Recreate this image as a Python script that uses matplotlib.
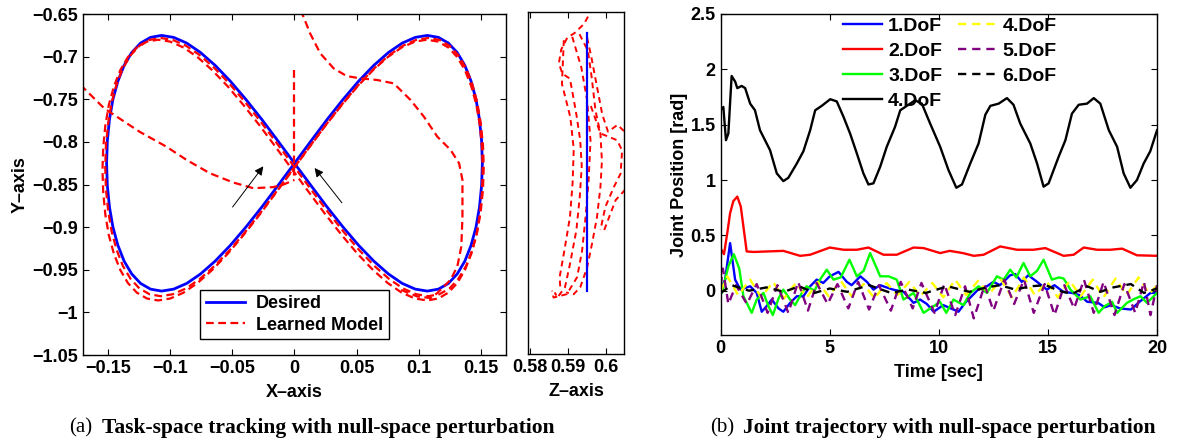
import numpy as np
import matplotlib
matplotlib.use("Agg")
import matplotlib.pyplot as plt

plt.rcParams['font.family'] = ['Liberation Sans', 'DejaVu Sans']
plt.rcParams['font.weight'] = 'bold'
plt.rcParams['axes.labelweight'] = 'bold'

# ---------------- task space (X-Y) ----------------
des_x = [0, .0132, .0262, .0391, .0516, .0638, .0755, .0866, .0971, .1068, .1157, .1237, .1308, .1369, .1419, .1459, .1487, .1504, .151,
         .1504, .1487, .1459, .1419, .1369, .1308, .1237, .1157, .1068, .0971, .0866, .0755, .0638, .0516, .0391, .0262, .0132, 0,
         -.0132, -.0262, -.0391, -.0516, -.0638, -.0755, -.0866, -.0971, -.1068, -.1157, -.1237, -.1308, -.1369, -.1419, -.1459, -.1487, -.1504, -.151,
         -.1504, -.1487, -.1459, -.1419, -.1369, -.1308, -.1237, -.1157, -.1068, -.0971, -.0866, -.0755, -.0638, -.0516, -.0391, -.0262, -.0132, 0]
des_y = [-.825, -.799, -.7737, -.75, -.7286, -.7101, -.6951, -.684, -.6773, -.675, -.6773, -.684, -.6951, -.7101, -.7286, -.75, -.7737, -.799, -.825,
         -.851, -.8763, -.9, -.9214, -.9399, -.9549, -.966, -.9727, -.975, -.9727, -.966, -.9549, -.9399, -.9214, -.9, -.8763, -.851, -.825,
         -.799, -.7737, -.75, -.7286, -.7101, -.6951, -.684, -.6773, -.675, -.6773, -.684, -.6951, -.7101, -.7286, -.75, -.7737, -.799, -.825,
         -.851, -.8763, -.9, -.9214, -.9399, -.9549, -.966, -.9727, -.975, -.9727, -.966, -.9549, -.9399, -.9214, -.9, -.8763, -.851, -.825]

lrnA_x = [0, .0133, .0264, .0394, .0520, .0642, .0760, .0872, .0978, .1075, .1165, .1246, .1317, .1379, .1429, .1469, .1497, .1515, .1521,
          .1515, .1497, .1469, .1429, .1379, .1317, .1246, .1165, .1075, .0978, .0872, .0760, .0642, .0520, .0394, .0264, .0133, 0,
          -.0133, -.0264, -.0394, -.0520, -.0642, -.0760, -.0872, -.0978, -.1075, -.1165, -.1246, -.1317, -.1379, -.1429, -.1469, -.1497, -.1515, -.1521,
          -.1515, -.1497, -.1469, -.1429, -.1379, -.1317, -.1246, -.1165, -.1075, -.0978, -.0872, -.0760, -.0642, -.0520, -.0394, -.0264, -.0133, 0]
lrnA_y = [-.8295, -.8032, -.7777, -.7537, -.7321, -.7135, -.6983, -.6871, -.6803, -.678, -.6803, -.6871, -.6983, -.7135, -.7321, -.7537, -.7777, -.8032, -.8295,
          -.8558, -.8813, -.9053, -.9269, -.9455, -.9607, -.9719, -.9787, -.981, -.9787, -.9719, -.9607, -.9455, -.9269, -.9053, -.8813, -.8558, -.8295,
          -.8032, -.7777, -.7537, -.7321, -.7135, -.6983, -.6871, -.6803, -.678, -.6803, -.6871, -.6983, -.7135, -.7321, -.7537, -.7777, -.8032, -.8295,
          -.8558, -.8813, -.9053, -.9269, -.9455, -.9607, -.9719, -.9787, -.981, -.9787, -.9719, -.9607, -.9455, -.9269, -.9053, -.8813, -.8558, -.8295]

lrnB_x = [-.0015, .0119, .0250, .0381, .0507, .0631, .0749, .0861, .0968, .1066, .1156, .1237, .1309, .1370, .1421, .1462, .1490, .1507, .1513,
          .1507, .1490, .1462, .1421, .1370, .1309, .1237, .1156, .1066, .0968, .0861, .0749, .0631, .0507, .0381, .0250, .0119, -.0015,
          -.0149, -.0280, -.0411, -.0537, -.0661, -.0779, -.0891, -.0998, -.1096, -.1186, -.1267, -.1339, -.1400, -.1451, -.1492, -.1520, -.1537, -.1543,
          -.1537, -.1520, -.1492, -.1451, -.1400, -.1339, -.1267, -.1186, -.1096, -.0998, -.0891, -.0779, -.0661, -.0537, -.0411, -.0280, -.0149, -.0015]
lrnB_y = [-.833, -.8064, -.7807, -.7565, -.7347, -.7158, -.7005, -.6892, -.6823, -.680, -.6823, -.6892, -.7005, -.7158, -.7347, -.7565, -.7807, -.8064, -.833,
          -.8596, -.8853, -.9095, -.9313, -.9502, -.9655, -.9768, -.9837, -.986, -.9837, -.9768, -.9655, -.9502, -.9313, -.9095, -.8853, -.8596, -.833,
          -.8064, -.7807, -.7565, -.7347, -.7158, -.7005, -.6892, -.6823, -.680, -.6823, -.6892, -.7005, -.7158, -.7347, -.7565, -.7807, -.8064, -.833,
          -.8596, -.8853, -.9095, -.9313, -.9502, -.9655, -.9768, -.9837, -.986, -.9837, -.9768, -.9655, -.9502, -.9313, -.9095, -.8853, -.8596, -.833]

# perturbation parts of the learned model
pert1_x = [0.0, 0.0]
pert1_y = [-0.716, -0.842]
pert2_x = [-0.172, -0.153, -0.1245, -0.103, -0.0868, -0.068, -0.049, -0.033, -0.017, -0.0089, 0.0]
pert2_y = [-0.733, -0.7605, -0.788, -0.8055, -0.821, -0.8367, -0.8477, -0.8543, -0.853, -0.850, -0.8445]
pert3_x = [0.005, 0.0126, 0.0207, 0.0315, 0.042, 0.053, 0.0664, 0.0798, 0.0933, 0.104, 0.1148, 0.1255,
           0.1323, 0.135, 0.135, 0.1341, 0.1309, 0.1255, 0.1148, 0.1094, 0.0987, 0.0852]
pert3_y = [-0.645, -0.6727, -0.696, -0.7137, -0.7227, -0.7254, -0.7273, -0.7313, -0.7508, -0.7703, -0.7938, -0.8094,
           -0.825, -0.8445, -0.8875, -0.9227, -0.946, -0.9617, -0.9773, -0.9832, -0.9813, -0.9734]

# ---------------- Z axis ----------------
zdes_z = [0.5951, 0.5951]
zdes_y = [-0.6746, -0.976]
z_strands = [
    ([0.5965, 0.5942, 0.5916, 0.5898, 0.5882, 0.5876, 0.5885, 0.5905, 0.5912, 0.5922, 0.5932, 0.5936, 0.5931,
      0.5922, 0.5905, 0.5892, 0.5872, 0.5865],
     [-0.645, -0.664, -0.675, -0.680, -0.694, -0.710, -0.722, -0.728, -0.745, -0.770, -0.800, -0.830, -0.865,
      -0.905, -0.945, -0.972, -0.984, -0.978]),
    ([0.5930, 0.5952, 0.5962, 0.5972, 0.5985, 0.5989, 0.5985, 0.5976, 0.5963, 0.5950, 0.5932, 0.5915, 0.5895],
     [-0.676, -0.695, -0.726, -0.765, -0.792, -0.824, -0.855, -0.890, -0.921, -0.949, -0.972, -0.980, -0.978]),
    ([0.5960, 0.5985, 0.6029, 0.6042, 0.6038, 0.6020, 0.5998, 0.5985],
     [-0.760, -0.792, -0.800, -0.812, -0.839, -0.855, -0.878, -0.905]),
    ([0.5911, 0.5935, 0.5950, 0.5959, 0.5954, 0.5946, 0.5937, 0.5924, 0.5897, 0.5862, 0.5858],
     [-0.679, -0.715, -0.753, -0.800, -0.847, -0.890, -0.929, -0.960, -0.980, -0.984, -0.976]),
    ([0.5889, 0.5884, 0.5906, 0.5915, 0.5912, 0.5905, 0.5890, 0.5878, 0.5880],
     [-0.683, -0.734, -0.773, -0.810, -0.850, -0.890, -0.930, -0.960, -0.975]),
    ([0.5950, 0.5960, 0.5975, 0.5990, 0.6005, 0.6030, 0.6060],
     [-0.680, -0.700, -0.735, -0.770, -0.790, -0.782, -0.795]),
    ([0.5995, 0.6025, 0.6060],
     [-0.905, -0.870, -0.853]),
]

# ---------------- joint trajectories ----------------
t_j4 = [0, 0.12, 0.24, 0.35, 0.5, 0.66, 0.76, 0.96, 1.12, 1.35, 1.57, 1.8, 2.03, 2.26, 2.57, 2.87, 3.1, 3.49,
        3.79, 4.1, 4.33, 4.63, 5.02, 5.32, 5.63, 5.93, 6.24, 6.54, 6.77, 7.0, 7.31, 7.61, 7.99, 8.23, 8.53, 8.91,
        9.22, 9.6, 10.06, 10.44, 10.8, 11.06, 11.44, 11.82, 12.13, 12.36, 12.74, 13.12, 13.42, 13.73, 14.19, 14.5,
        14.8, 15.03, 15.49, 15.8, 16.1, 16.41, 16.79, 17.1, 17.4, 17.79, 18.17, 18.47, 18.78, 19.08, 19.39, 19.69, 20.0]
q_j4 = [1.63, 1.66, 1.36, 1.42, 1.94, 1.89, 1.83, 1.85, 1.83, 1.69, 1.63, 1.45, 1.36, 1.27, 1.06, 0.99, 1.02, 1.15,
        1.26, 1.45, 1.63, 1.67, 1.73, 1.71, 1.57, 1.42, 1.24, 1.06, 0.96, 0.97, 1.12, 1.30, 1.48, 1.63, 1.67, 1.72,
        1.69, 1.51, 1.30, 1.09, 0.93, 0.96, 1.15, 1.33, 1.59, 1.67, 1.69, 1.74, 1.68, 1.51, 1.33, 1.15,
        0.94, 0.97, 1.21, 1.36, 1.60, 1.68, 1.69, 1.74, 1.69, 1.45, 1.30, 1.06, 0.93, 1.00, 1.15, 1.26, 1.45]

t_j2 = [0, 0.15, 0.3, 0.43, 0.58, 0.76, 0.92, 1.04, 1.19, 1.5, 2.87, 3.64, 4.1, 5.0, 5.63, 6.24, 6.77, 7.46, 8.07,
        8.84, 9.3, 10.06, 10.5, 11.1, 11.6, 12.05, 12.81, 13.58, 14.34, 14.88, 15.72, 16.18, 16.64, 17.25, 17.86,
        18.4, 19.08, 20.0]
q_j2 = [0.38, 0.33, 0.52, 0.70, 0.81, 0.85, 0.76, 0.58, 0.355, 0.35, 0.36, 0.315, 0.325, 0.39, 0.37, 0.37, 0.39,
        0.325, 0.325, 0.39, 0.385, 0.34, 0.36, 0.34, 0.315, 0.325, 0.40, 0.37, 0.37, 0.385, 0.315, 0.325, 0.39,
        0.37, 0.37, 0.38, 0.32, 0.315]

t_j1 = [0, 0.2, 0.43, 0.66, 0.9, 1.35, 1.65, 1.88, 2.1, 2.34, 2.65, 2.87, 3.18, 3.49, 3.79, 4.1, 4.4, 4.7, 5.0,
        5.4, 5.78, 6.0, 6.4, 6.7, 7.0, 7.3, 7.6, 7.9, 8.38, 8.84, 9.14, 9.45, 9.76, 10.2, 10.55, 10.9, 11.2, 11.5,
        11.8, 12.2, 12.5, 12.8, 13.27, 13.5, 13.8, 14.1, 14.5, 14.95, 15.3, 15.7, 16.1, 16.45, 16.8, 17.3, 17.6,
        17.9, 18.3, 18.8, 19.2, 19.7, 20.0]
q_j1 = [0.01, 0.1, 0.43, 0.1, 0.01, 0.04, -0.02, -0.19, -0.14, -0.08, -0.16, -0.19, -0.11, -0.05, -0.05, 0.04,
        0.1, 0.07, 0.13, 0.17, 0.08, 0.05, 0.13, 0.08, 0.01, 0.05, 0.03, 0.01, -0.01, -0.11, -0.08, -0.12, -0.19,
        -0.13, -0.16, -0.19, -0.11, -0.05, 0.01, 0.04, 0.08, 0.05, 0.14, 0.15, 0.08, 0.14, 0.08, 0.01, 0.05,
        -0.01, -0.02, -0.04, -0.1, -0.11, -0.15, -0.13, -0.16, -0.17, -0.1, -0.02, -0.02]

t_j3 = [0, 0.05, 0.35, 0.6, 0.85, 1.04, 1.42, 1.65, 1.96, 2.19, 2.39, 2.65, 2.87, 3.18, 3.41, 3.72, 3.94, 4.3,
        4.55, 4.86, 5.17, 5.5, 5.9, 6.24, 6.55, 6.85, 7.31, 7.7, 8.07, 8.38, 8.84, 9.3, 9.76, 10.05, 10.34, 10.67,
        11.13, 11.44, 11.82, 12.2, 12.66, 12.97, 13.27, 13.55, 13.88, 14.19, 14.5, 14.8, 15.18, 15.5, 15.72, 16.03,
        16.49, 16.94, 17.32, 17.6, 17.94, 18.17, 18.62, 18.9, 19.24, 19.54, 20.0]
q_j3 = [0.0, -0.02, 0.22, 0.33, 0.2, -0.05, -0.2, -0.08, -0.02, -0.14, -0.22, -0.07, 0.01, -0.08, -0.13, -0.02,
        0.04, 0.0, 0.1, 0.19, 0.1, 0.12, 0.28, 0.13, 0.18, 0.34, 0.13, 0.13, 0.1, -0.08, -0.02, -0.2, -0.14, -0.1,
        -0.2, -0.08, -0.13, -0.02, 0.04, -0.02, 0.13, 0.1, 0.19, 0.12, 0.25, 0.13, 0.18, 0.28, 0.1, 0.12, 0.11,
        0.01, -0.08, -0.05, -0.2, -0.14, -0.1, -0.2, -0.11, -0.08, -0.05, -0.11, -0.02]

t_j4b = [0, 0.3, 0.8, 1.35, 1.85, 2.4, 2.9, 3.45, 3.95, 4.45, 4.95, 5.5, 6.0, 6.55, 7.05, 7.6, 8.1, 8.65, 9.15,
         9.7, 10.2, 10.75, 11.25, 11.8, 12.3, 12.85, 13.35, 13.9, 14.4, 14.95, 15.45, 16.0, 16.5, 17.05, 17.55,
         18.1, 18.6, 19.15, 19.65, 20.0]
q_j4b = [0.0, 0.13, -0.04, 0.1, -0.06, 0.08, -0.07, 0.07, -0.06, 0.08, -0.05, 0.09, -0.05, 0.06, -0.07, 0.07,
         -0.04, 0.08, -0.05, 0.07, -0.06, 0.1, -0.04, 0.09, -0.03, 0.1, -0.06, 0.12, -0.04, 0.08, -0.06, 0.09,
         -0.05, 0.1, -0.06, 0.11, -0.04, 0.12, -0.03, 0.05]

t_j5 = [0.0, 0.1, 0.35, 0.7, 1.2, 1.65, 2.15, 2.6, 3.1, 3.55, 4.0, 4.4, 4.9, 5.35, 5.85, 6.3, 6.8, 7.25, 7.8,
        8.25, 8.8, 9.2, 9.8, 10.25, 10.75, 11.2, 11.6, 12.1, 12.5, 13.0, 13.45, 13.9, 14.35, 14.85, 15.3, 15.75,
        16.2, 16.65, 17.1, 17.55, 18.05, 18.5, 19.0, 19.4, 19.7, 20.0]
q_j5 = [0.05, 0.2, -0.12, 0.05, -0.12, 0.06, -0.2, 0.05, -0.2, 0.08, -0.18, 0.07, -0.12, 0.06, -0.16, 0.08,
        -0.17, 0.05, -0.18, 0.08, -0.16, 0.07, -0.2, 0.06, -0.22, 0.04, -0.25, 0.05, -0.18, 0.1, -0.12, 0.1,
        -0.2, 0.06, -0.22, 0.05, -0.16, 0.1, -0.2, 0.08, -0.22, 0.06, -0.2, 0.08, -0.22, 0.05]

t_j6 = [0, 0.5, 1.3, 2.1, 2.9, 3.6, 4.3, 5.0, 5.8, 6.8, 7.8, 8.6, 9.4, 10.4, 11.4, 12.2, 12.8, 13.5, 14.2, 14.9,
        15.5, 16.1, 16.8, 17.4, 18.0, 18.8, 19.4, 20.0]
q_j6 = [-0.02, 0.05, 0.0, 0.03, -0.01, 0.04, -0.02, 0.02, -0.01, 0.05, -0.02, 0.01, -0.02, 0.04, -0.01, 0.03,
        0.05, 0.01, 0.04, 0.05, 0.0, -0.03, 0.04, -0.01, 0.03, 0.06, -0.02, 0.02]


def style_axes(ax, size=13):
    ax.tick_params(direction='in', top=True, right=True, length=4, width=0.8, labelsize=size)
    for lab in ax.get_xticklabels() + ax.get_yticklabels():
        lab.set_fontweight('bold')
    for s in ax.spines.values():
        s.set_linewidth(1.0)


fig = plt.figure(figsize=(11.85, 4.41), dpi=100)

# panel a, XY
ax1 = fig.add_axes([0.0700, 0.195, 0.357, 0.773])
ax1.plot(des_x, des_y, color='blue', lw=2.0, label='Desired')
red_kw = dict(color='red', lw=1.6, ls=(0, (3.5, 2)))
ax1.plot(lrnA_x, lrnA_y, label='Learned Model', **red_kw)
ax1.plot(lrnB_x, lrnB_y, **red_kw)
ax1.plot(pert1_x, pert1_y, **red_kw)
ax1.plot(pert2_x, pert2_y, **red_kw)
ax1.plot(pert3_x, pert3_y, **red_kw)
ax1.annotate('', xy=(-0.0237, -0.826), xytext=(-0.0511, -0.879),
             arrowprops=dict(arrowstyle='-|>', color='k', lw=0.7, mutation_scale=13))
ax1.annotate('', xy=(0.0148, -0.828), xytext=(0.0395, -0.874),
             arrowprops=dict(arrowstyle='-|>', color='k', lw=0.7, mutation_scale=13))
ax1.set_xlim(-0.17, 0.17)
ax1.set_ylim(-1.05, -0.65)
ax1.set_xticks([-0.15, -0.1, -0.05, 0, 0.05, 0.1, 0.15])
ax1.set_xticklabels(['−0.15', '−0.1', '−0.05', '0', '0.05', '0.1', '0.15'], fontweight='bold')
ax1.set_yticks([-1.05, -1, -0.95, -0.9, -0.85, -0.8, -0.75, -0.7, -0.65])
ax1.set_yticklabels(['−1.05', '−1', '−0.95', '−0.9', '−0.85', '−0.8', '−0.75', '−0.7', '−0.65'],
                    fontweight='bold')
ax1.set_xlabel('X–axis', fontsize=13, labelpad=5)
ax1.set_ylabel('Y–axis', fontsize=13, labelpad=3)
style_axes(ax1)
leg = ax1.legend(loc='lower left', bbox_to_anchor=(0.277, 0.047), fontsize=13, handlelength=2.2,
                 fancybox=False, edgecolor='black', framealpha=1, borderpad=0.3, labelspacing=0.25,
                 handletextpad=0.6, borderaxespad=0)
leg.get_frame().set_linewidth(1.0)
for txt in leg.get_texts():
    txt.set_fontweight('bold')

# panel a, Z
ax2 = fig.add_axes([0.4456, 0.1973, 0.081, 0.7755])
for zz, yy in z_strands:
    ax2.plot(zz, yy, color='red', lw=1.4, ls=(0, (3, 2.2)))
ax2.plot(zdes_z, zdes_y, color='blue', lw=1.6)
ax2.set_xlim(0.5795, 0.6047)
ax2.set_ylim(-1.05, -0.65)
ax2.set_xticks([0.58, 0.59, 0.6])
ax2.set_xticklabels(['0.58', '0.59', '0.6'], fontweight='bold')
ax2.set_yticks([])
ax2.set_xlabel('Z–axis', fontsize=13, labelpad=5)
style_axes(ax2)

# panel b, joints
ax3 = fig.add_axes([0.6082, 0.2404, 0.3682, 0.7279])
ax3.plot(t_j1, q_j1, color='blue', lw=1.7, label='1.DoF')
ax3.plot(t_j2, q_j2, color='red', lw=1.7, label='2.DoF')
ax3.plot(t_j3, q_j3, color='#00ff00', lw=1.7, label='3.DoF')
ax3.plot(t_j4, q_j4, color='black', lw=1.7, label='4.DoF')
ax3.plot(t_j4b, q_j4b, color='yellow', lw=1.7, ls=(0, (3.5, 2.5)), label='4.DoF')
ax3.plot(t_j5, q_j5, color='purple', lw=1.7, ls=(0, (3.5, 2.5)), label='5.DoF')
ax3.plot(t_j6, q_j6, color='black', lw=1.7, ls=(0, (3.5, 2.5)), label='6.DoF')
ax3.set_xlim(0, 20)
ax3.set_ylim(-0.4, 2.5)
ax3.set_xticks([0, 5, 10, 15, 20])
ax3.set_xticklabels(['0', '5', '10', '15', '20'], fontweight='bold')
ax3.set_yticks([0, 0.5, 1, 1.5, 2, 2.5])
ax3.set_yticklabels(['0', '0.5', '1', '1.5', '2', '2.5'], fontweight='bold')
ax3.set_xlabel('Time [sec]', fontsize=13, labelpad=5)
ax3.set_ylabel('Joint Position [rad]', fontsize=13, labelpad=2)
style_axes(ax3)
leg3 = ax3.legend(loc='upper left', bbox_to_anchor=(0.281, 0.99), ncol=2, frameon=False, fontsize=14,
                  handlelength=2.0, handletextpad=0.3, columnspacing=0.8, labelspacing=0.38,
                  borderaxespad=0, borderpad=0)
for txt in leg3.get_texts():
    txt.set_fontweight('bold')

# captions
cap_y = 1 - 428 / 441
serif = ['Liberation Serif', 'DejaVu Serif']
fig.text(69 / 1185, cap_y, '(a)', family=serif, fontsize=15, fontweight='normal', va='center', ha='left')
fig.text(102 / 1185, cap_y, 'Task-space tracking with null-space perturbation',
         family=serif, fontsize=15.5, fontweight='bold', va='center', ha='left')
fig.text(710 / 1185, cap_y, '(b)', family=serif, fontsize=15, fontweight='normal', va='center', ha='left')
fig.text(743 / 1185, cap_y, 'Joint trajectory with null-space perturbation',
         family=serif, fontsize=15.5, fontweight='bold', va='center', ha='left')

fig.savefig('out.png', dpi=100)
